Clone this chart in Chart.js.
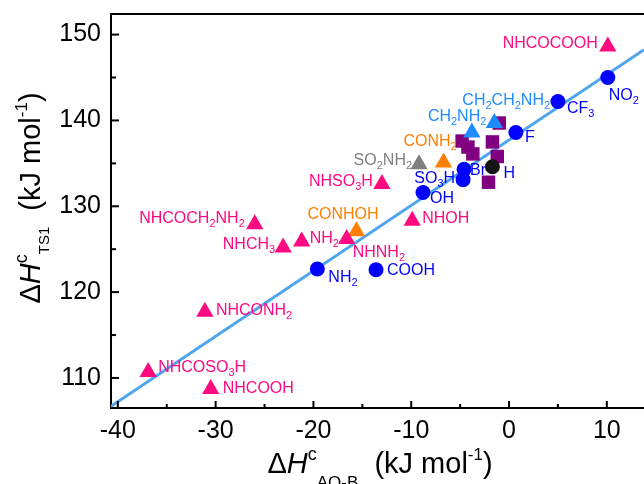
<!DOCTYPE html>
<html>
<head>
<meta charset="utf-8">
<script src="https://cdn.jsdelivr.net/npm/chart.js@4.4.0/dist/chart.umd.min.js"></script>
<style>
html, body { margin: 0; padding: 0; background: #fff; }
#wrap { width: 644px; height: 484px; }
</style>
</head>
<body>
<div id="wrap"><canvas id="scatterChart" width="644" height="484"></canvas></div>
<script>
// x = dH(AO-B), y = dH(TS1), both kJ/mol
const xTickLabels = [-40, -30, -20, -10, 0, 10];
const yTickLabels = [110, 120, 130, 140, 150];

const pinkNames = ['NHCOCOOH', 'NHSO3H', 'NHCOCH2NH2', 'NHOH', 'NHCH3', 'NH2', 'NHNH2', 'NHCONH2', 'NHCOSO3H', 'NHCOOH'];
const pinkX = [10.1, -13.0, -26.0, -9.9, -23.1, -21.2, -16.6, -31.1, -36.9, -30.5];
const pinkY = [148.6, 132.6, 127.9, 128.3, 125.2, 125.9, 126.2, 117.7, 110.7, 108.7];

const orangeNames = ['CONHOH', 'CONH2'];
const orangeX = [-15.6, -6.7];
const orangeY = [127.1, 135.1];

const grayNames = ['SO2NH2'];
const grayX = [-9.2];
const grayY = [134.9];

const skyNames = ['CH2NH2', 'CH2CH2NH2'];
const skyX = [-3.8, -1.5];
const skyY = [138.6, 139.7];

const blueNames = ['NO2', 'CF3', 'F', 'SO3H', 'Br', 'OH', 'NH2', 'COOH'];
const blueX = [10.1, 5.0, 0.7, -4.7, -4.6, -8.8, -19.6, -13.6];
const blueY = [145.0, 142.2, 138.6, 133.1, 134.3, 131.6, 122.7, 122.6];

const blackNames = ['H'];
const blackX = [-1.7];
const blackY = [134.6];

const purpleX = [-1.0, -4.8, -4.2, -3.7, -1.7, -1.2, -2.1];
const purpleY = [139.7, 137.6, 136.9, 136.1, 137.5, 135.8, 132.8];

// linear fit, end points
const fitX = [-40.7, 13.8];
const fitY = [106.7, 148.25];

const PINK = '#ff0a80';
const ORANGE = '#ff8000';
const GRAY = '#808080';
const SKY = '#1e8cff';
const BLUE = '#0000ff';
const PURPLE = '#800080';
const FONT = '"Liberation Sans", Arial, sans-serif';

// label offset from point in px: [dx, dy to baseline, align]
const labelOffsets = {
    pink: {
        NHCOCOOH: [-10, 1, 'right'], NHSO3H: [-9, 2.5, 'right'], NHCOCH2NH2: [-10, -1.5, 'right'],
        NHOH: [10, 2.5, 'left'], NHCH3: [-8, 1.5, 'right'], NH2: [8, 1.5, 'left'],
        NHNH2: [6, 18.5, 'left'], NHCONH2: [11, 3.5, 'left'], NHCOSO3H: [10, 0.5, 'left'],
        NHCOOH: [12, 3.5, 'left']
    },
    orange: { CONHOH: [-49, -12.5, 'left'], CONH2: [-40, -16.5, 'left'] },
    gray: { SO2NH2: [-7, 0.5, 'right'] },
    sky: { CH2NH2: [-44, -11.5, 'left'], CH2CH2NH2: [-32, -18.5, 'left'] },
    blue: {
        NO2: [1, 22, 'left'], CF3: [9, 11, 'left'], F: [9, 10, 'left'], SO3H: [-8, 3, 'right'],
        Br: [6, 6, 'left'], OH: [7, 10, 'left'], NH2: [11, 13, 'left'], COOH: [11, 5, 'left']
    },
    black: { H: [11, 11, 'left'] }
};

function pts(xs, ys) {
    return xs.map((x, i) => ({ x: x, y: ys[i] }));
}

function markSet(key, xs, ys, names, color, style, radius, textColor) {
    return {
        key: key,
        names: names,
        textColor: textColor || color,
        data: pts(xs, ys),
        pointStyle: style,
        pointRadius: radius,
        pointBackgroundColor: color,
        pointBorderColor: color,
        pointBorderWidth: 0,
        showLine: false,
        order: 2
    };
}

// draw a run of text pieces {t, sz, dy, it}
function richWidth(ctx, segs) {
    let w = 0;
    segs.forEach(s => {
        ctx.font = (s.it ? 'italic ' : '') + s.sz + 'px ' + FONT;
        w += ctx.measureText(s.t).width;
    });
    return w;
}

function drawRich(ctx, segs, x, y, align) {
    const w = richWidth(ctx, segs);
    let cx = align === 'right' ? x - w : (align === 'center' ? x - w / 2 : x);
    ctx.textBaseline = 'alphabetic';
    ctx.textAlign = 'left';
    segs.forEach(s => {
        ctx.font = (s.it ? 'italic ' : '') + s.sz + 'px ' + FONT;
        ctx.fillText(s.t, cx, y + (s.dy || 0));
        cx += ctx.measureText(s.t).width;
    });
}

function chemSegs(name) {
    return name.split(/(\d+)/).filter(p => p.length).map(p =>
        /^\d+$/.test(p) ? { t: p, sz: 11, dy: 4 } : { t: p, sz: 16, dy: 0 });
}

const labelPlugin = {
    id: 'pointLabels',
    afterDatasetsDraw(chart) {
        const ctx = chart.ctx;
        ctx.save();
        chart.data.datasets.forEach((ds, di) => {
            if (!ds.names) return;
            const meta = chart.getDatasetMeta(di);
            ds.names.forEach((name, i) => {
                const off = labelOffsets[ds.key][name];
                const el = meta.data[i];
                ctx.fillStyle = ds.textColor;
                drawRich(ctx, chemSegs(name), el.x + off[0], el.y + off[1], off[2]);
            });
        });
        ctx.restore();
    }
};

const framePlugin = {
    id: 'frame',
    afterDraw(chart) {
        const ctx = chart.ctx;
        const area = chart.chartArea;
        const xs = chart.scales.x;
        const ys = chart.scales.y;
        ctx.save();
        ctx.strokeStyle = '#000';
        ctx.lineWidth = 2;
        // top border
        ctx.beginPath();
        ctx.moveTo(area.left - 1, area.top);
        ctx.lineTo(area.right, area.top);
        ctx.stroke();
        // inward ticks, majors from the label arrays, minors halfway
        xTickLabels.forEach((v, i) => {
            const marks = [[v, 7]];
            if (i < xTickLabels.length - 1) marks.push([(v + xTickLabels[i + 1]) / 2, 4]);
            else marks.push([v - 5, 4]);
            marks.forEach(m => {
                const px = xs.getPixelForValue(m[0]);
                if (px < area.left || px > area.right) return;
                ctx.beginPath();
                ctx.moveTo(px, area.bottom);
                ctx.lineTo(px, area.bottom - m[1]);
                ctx.stroke();
            });
        });
        yTickLabels.forEach(v => {
            [[v, 8], [v - 5, 5]].forEach(m => {
                const py = ys.getPixelForValue(m[0]);
                if (py < area.top || py > area.bottom) return;
                ctx.beginPath();
                ctx.moveTo(area.left, py);
                ctx.lineTo(area.left + m[1], py);
                ctx.stroke();
            });
        });
        // axis titles
        ctx.fillStyle = '#000';
        const xTitle = [
            { t: '\u0394', sz: 29 }, { t: 'H', sz: 29, it: true }, { t: 'c', sz: 18, dy: -13 },
            { t: 'AO-B', sz: 17, dy: 15 }, { t: '  (kJ mol', sz: 29 }, { t: '-1', sz: 17, dy: -13 }, { t: ')', sz: 29 }
        ];
        drawRich(ctx, xTitle, 380, 473, 'center');
        const yTitle = [
            { t: '\u0394', sz: 29 }, { t: 'H', sz: 29, it: true }, { t: 'c', sz: 18, dy: -13 },
            { t: 'TS1', sz: 15, dy: 9 }, { t: '  (kJ mol', sz: 29 }, { t: '-1', sz: 17, dy: -13 }, { t: ')', sz: 29 }
        ];
        ctx.translate(40, 198);
        ctx.rotate(-Math.PI / 2);
        drawRich(ctx, yTitle, 0, 0, 'center');
        ctx.restore();
    }
};

const ctx = document.getElementById('scatterChart').getContext('2d');

const scatterChart = new Chart(ctx, {
    type: 'scatter',
    data: {
        datasets: [
            {
                data: pts(fitX, fitY),
                showLine: true,
                borderColor: '#4fa6ee',
                borderWidth: 3,
                pointRadius: 0,
                fill: false,
                order: 10
            },
            {
                data: pts(purpleX, purpleY),
                pointStyle: 'rect',
                pointRadius: 9.5,
                pointBackgroundColor: PURPLE,
                pointBorderColor: PURPLE,
                pointBorderWidth: 0,
                order: 5
            },
            markSet('pink', pinkX, pinkY, pinkNames, PINK, 'triangle', 10),
            markSet('orange', orangeX, orangeY, orangeNames, ORANGE, 'triangle', 10),
            markSet('gray', grayX, grayY, grayNames, GRAY, 'triangle', 10),
            markSet('sky', skyX, skyY, skyNames, SKY, 'triangle', 10),
            markSet('blue', blueX, blueY, blueNames, BLUE, 'circle', 7.5),
            markSet('black', blackX, blackY, blackNames, '#151515', 'circle', 7.5, BLUE)
        ]
    },
    options: {
        responsive: false,
        animation: false,
        layout: { autoPadding: false, padding: { top: 14, right: 0, left: 0, bottom: 0 } },
        plugins: {
            legend: { display: false },
            tooltip: { enabled: false }
        },
        scales: {
            x: {
                type: 'linear',
                min: -40.7,
                max: 13.8,
                grid: { display: false, drawTicks: false },
                border: { display: true, color: '#000', width: 2 },
                ticks: {
                    color: '#000',
                    padding: 8,
                    maxRotation: 0,
                    font: { family: FONT, size: 25 }
                },
                afterBuildTicks: function(scale) {
                    scale.ticks = xTickLabels.map(v => ({ value: v }));
                },
                afterFit: function(scale) {
                    scale.height = 76;
                    scale.paddingLeft = 0;
                    scale.paddingRight = 0;
                }
            },
            y: {
                type: 'linear',
                min: 106.5,
                max: 152.4,
                grid: { display: false, drawTicks: false },
                border: { display: true, color: '#000', width: 2 },
                ticks: {
                    color: '#000',
                    padding: 10,
                    font: { family: FONT, size: 25 }
                },
                afterBuildTicks: function(scale) {
                    scale.ticks = yTickLabels.map(v => ({ value: v }));
                },
                afterFit: function(scale) {
                    scale.width = 111;
                    scale.paddingTop = 0;
                    scale.paddingBottom = 0;
                }
            }
        }
    },
    plugins: [labelPlugin, framePlugin]
});
</script>
</body>
</html>
